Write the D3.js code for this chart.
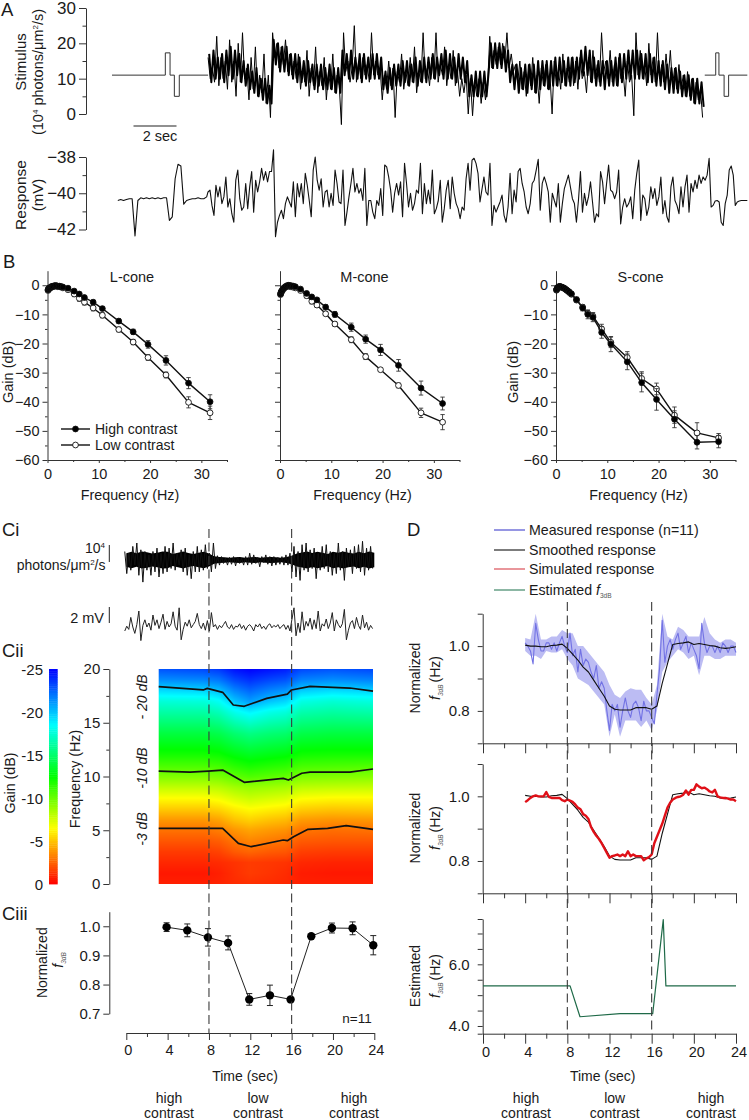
<!DOCTYPE html>
<html><head><meta charset="utf-8">
<style>html,body{margin:0;padding:0;background:#fff}svg{display:block}text{font-family:"Liberation Sans",Arial,sans-serif;fill:#1a1a1a}</style>
<script src="https://cdn.jsdelivr.net/npm/d3@7/dist/d3.min.js"></script>
</head><body>
<svg id="fig" width="749" height="1120" viewBox="0 0 749 1120"></svg>
<script>
// ---------- Panel A data ----------
const stimPre=[[0,11],[2.48,11],[2.48,17.3],[2.7,17.3],[2.7,11],[2.9,11],[2.9,5],[3.13,5],[3.13,11],[4.47,11]];
const stimPost=[[27.57,11],[28.08,11],[28.08,17.3],[28.23,17.3],[28.23,11],[28.47,11],[28.47,5],[28.68,5],[28.68,11],[29.55,11]];
const stimNoise=[16,10,13,9,22,8,16,10,15,7,
21,9,15,5,20,9,23,10,13,4,
16,7,19,5,11,6,17,3,11,-1,
23,16,20,13,19,14,21,12,17,11,
15,10,17,7,13,9,18,5,13,8,
19,6,12,8,16,4,12,7,17,6,
11,8,
-3,23,12,15,9,13,25,9,15,10,
16,11,14,9,23,11,15,11,13,
4,11,7,15,8,13,-1,12,9,17,
7,12,8,16,9,19,6,12,9,23,
10,13,8,16,10,23,9,14,11,19,
8,14,10,18,8,12,5,10,6,11,
0,10,-0.5,9,5,10,3,9,4,8,
22,13,18,14,19,14,20,15,23,13,
17,12,14,9,15,7,12,5,14,8,
16,6,11,3,13,8,14,7,11,0,
15,8,12,7,17,8,13,9,16,8,
15,7,16,10,12,6,16,9,18,10,
14,9,23,12,15,10,18,9,14,8,
16,10,12,5,15,9,11,-0.5,23,11,
18,10,14,8,20,11,16,9,23,10,
14,9,17,10,18,8,13,7,14,7,
11,5,12,5,10,3,9,4,7,-1];
const stimDense=[17,9,18,10,16,10,17,9,18,11,
19,10,18,11,17,9,15,8,14,7,
12,6,13,5,10,4,10,3,8,3,
21,14,20,12,19,12,19,11,17,10,
17,9,16,9,15,8,15,9,14,7,
14,8,14,7,13,7,14,7,13,6,
13,6,
18,11,17,10,18,10,16,10,17,9,
17,10,16,10,17,10,17,10,16,
7,12,6,13,7,14,8,14,8,15,
9,15,8,14,9,16,8,15,9,16,
9,16,10,17,10,16,11,17,10,18,
10,17,10,16,9,17,10,16,9,15,
5,11,5,12,5,12,5,12,5,12,
20,13,20,13,20,13,19,12,18,9,
14,7,14,6,13,7,14,6,14,7,
14,6,15,7,15,8,15,7,15,8,
16,8,16,9,15,8,16,8,16,9,
16,10,18,11,19,11,18,9,16,8,
15,8,15,7,15,8,15,8,16,8,
17,9,17,10,18,10,18,10,18,10,
17,10,17,9,17,9,16,8,15,8,
15,7,14,6,13,6,13,6,12,5,
11,5,11,4,10,3,10,3,9,2];
const respPre=[-40.4,-40.35,-40.4,-40.35,-40.3,-40.3,-42.35,-40.4,-40.25,-40.3,
-40.25,-40.3,-40.25,-40.3,-40.25,-40.3,-40.25,-40.25,-41.5,-41.3,
-39.2,-38.4,-38.5,-40.6,-40.4,-40.35,-40.3,-40.3,-40.25,-40.3,
-40.3,-40.2];
const respMidA=[-39.93,-39.83,-40.67,-41.22,-39.56,-40.2,-39.65,-40.57,-40.2,-39.1,-40.76,-40.3,-41.13,-41.6,-39.28,-38.72,-40.3,-40.94,-40.76,-39.46,-40.85,-39.65,-38.8,-41.04,-39.28,-39.93,-39.37,-38.63,-39.28,-38.8,-39.37,-38.8,-38.8,-37.6,-42.4,-41.6,-41.22,-40.94,-41.4,-40.57,-40.2,-40.48,-40.76,-39.37,-41.3,-39.46,-40.2,-39.46,-40.57,-38.9,-39.56,-40.4,-41.3,-38.72,-38,-39.28,-39.83,-39.2,-40.76,-39.93,-39.83,-40.76,-40,-40.67,-38.72,-39.46,-40.48,-40.57,-38.72,-41.78,-41.04,-40.2,-39.46,-38.63,-39.93,-39.46,-40,-39.74,-40.4,-38.63,-41.78,-40.4,-40.4,-41.04,-41.4,-40.4,-40.67,-39.74,-41.22,-38.44,-38.54,-39.1,-39.83,-41.04,-40,-39.46,-40.1,-39.37,-41.3,-38.35,-39.46,-40.76,-40,-40.94,-40.57,-39.83,-40,-38.35,-41.13,-39.46,-40.57,-39.83,-40.57,-38.72,-41.13,-40.85,-40.4,-39.28,-41.6,-40.85,-39.83,-39.28,-40.85,-39.1,-40,-40.57,-40.85,-41.4,-40.76,-40.94,-39.2,-38.35,-39.83,-38.17,-38.07,-38.35,-38.9,-40.48];
const respMidB=[-39.1,-39.93,-40.1,-38.35,-41.78,-40.67,-41.04,-40.76,-40.48,-40.1,-41.22,-41.6,-40.76,-38.9,-41.13,-39.83,-40.48,-38.8,-38.63,-39.46,-39.93,-40.76,-41.13,-40.57,-39.46,-39.28,-38.72,-38.13,-40.94,-39.46,-39.1,-39.46,-39.93,-41.6,-40,-40.4,-40.76,-39.46,-41.6,-40.57,-39.74,-39.37,-39,-39.65,-40.3,-40.57,-41.6,-40.4,-38.8,-41.04,-40,-40.67,-40.2,-39.37,-40.48,-41.6,-41.13,-41.3,-38.8,-39.37,-40.57,-39.46,-38.44,-39.83,-39.93,-40.3,-39.93,-38.72,-41.69,-40.76,-40.3,-40.76,-40.57,-40.2,-41.4,-39.83,-38.9,-38.17,-41.5,-40.1,-40.3,-41.22,-40.76,-39.65,-40.3,-39.74,-40.67,-40.2,-39.1,-41.13,-40.4,-41.3,-41.6,-39.65,-39.1,-40.4,-40.67,-41.13,-39.65,-40.76,-39.65,-39,-41.04,-39.46,-39.93,-39.28,-39.74,-39,-39.46,-39.1,-39.28,-39,-38.07,-40.76,-40.67,-40.43,-40.4,-40.48,-41.6,-41.78,-40.57,-40.1,-38.72,-38.5,-39,-40.67,-40.48,-40.43,-40.4,-40.4,-40.4,-40.4];

// ---------- Panel B data ----------
const freqs=[0.1,0.2,0.3,0.5,0.7,0.9,1.1,1.4,1.7,2,2.3,2.6,3,4,5.2,6.2,7.2,8.9,10.7,13.9,16.7,19.6,23.1,27.5,31.7];
const lHigh=[-1.5,-1.2,-1,-0.8,-0.5,-0.4,-0.3,-0.1,-0.1,-0.3,-0.3,-0.4,-0.6,-1,-2,-3,-4.2,-5.8,-8,-12.3,-16,-20.3,-25.8,-33.6,-40];
const lLow=[-1.8,-1.5,-1.2,-1,-0.7,-0.6,-0.5,-0.3,-0.3,-0.5,-0.5,-0.6,-0.9,-1.5,-3,-4.5,-5.8,-7.8,-10.3,-15.2,-19.5,-24.8,-30.8,-40.2,-43.8];
const lHighErr=[.4,.4,.4,.4,.4,.4,.3,.3,.3,.3,.3,.4,.4,.6,.7,.6,.6,.7,.7,.8,.9,1.3,1.6,1.9,2.4];
const lLowErr=[.5,.5,.5,.5,.5,.5,.5,.5,.5,.5,.5,.5,.5,.8,.9,1,1,1,.9,.8,.9,1,1,1.9,2.3];
const mHigh=[-3,-2.4,-2,-1.5,-1,-.7,-.4,-.1,0,-.1,-.2,-.3,-.5,-1.3,-2.8,-4,-5,-7.5,-10,-14.4,-18.5,-22.2,-27.5,-35.3,-40.6];
const mLow=[-3.2,-2.7,-2.2,-1.7,-1.2,-.9,-.6,-.3,-.3,-.5,-.5,-.7,-.9,-1.8,-3.6,-5.5,-6.8,-9.8,-13.3,-18.7,-24.5,-29,-34.4,-43.8,-47];
const mHighErr=[.6,.6,.6,.5,.5,.4,.4,.4,.4,.4,.4,.4,.5,.6,.7,.7,.7,.9,1,1.4,1.4,1.9,2,2.4,2.2];
const mLowErr=[.7,.7,.6,.6,.5,.5,.5,.5,.5,.5,.5,.6,.6,.7,.8,.9,.8,.6,.8,1,1,.6,.8,1.6,2.6];
const sHigh=[-1.5,-1.2,-.8,-.5,-.4,-.5,-.6,-.8,-1.1,-1.5,-1.9,-2.3,-2.9,-4.9,-7.8,-10,-11,-16.2,-20.2,-26.3,-33.4,-39.2,-46,-53.9,-53.7];
const sLow=[-1.7,-1.3,-1,-.7,-.5,-.6,-.7,-.9,-1.2,-1.6,-2,-2.5,-3.1,-5.1,-7.5,-9.6,-10.6,-15,-19.6,-24.8,-32,-35.6,-44.6,-50.7,-52.4];
const sHighErr=[.5,.5,.5,.4,.4,.4,.4,.4,.5,.5,.5,.5,.6,.8,1,1.5,1.5,2,2.6,2.7,3.2,3.7,2.9,2.3,2.1];
const sLowErr=[.5,.5,.5,.4,.4,.4,.4,.4,.5,.5,.5,.5,.6,.7,.8,1,1.2,1.6,1.8,2,2.3,2,2.8,3.5,1.5];

// ---------- Panel Ci data ----------
const ciStim=[.5,-.8,.4,-.6,.8,-.3,1.0,-.9,.6,-1.3,.5,-.6,.3,-.9,.5,-.7,.7,-1,.4,-.8,.8,-.7,.7,-.5,1,-.6,.4,-.3,.6,-.7,.7,-.9,.3,-1.1,.5,-.7,.8,-.7,.6,-.6,.9,-.5,.4,-.7,1,-.5,
.25,-.3,.2,-.2,.1,-.3,.15,-.25,.2,-.35,.15,-.2,.1,-.3,.2,-.3,.4,-.25,.3,-.2,.15,-.4,.2,-.15,.3,-.25,.2,-.35,.2,-.3,.15,-.25,.2,-.3,.3,-.3,
.4,-.7,.8,-1,.5,-1.2,.9,-.6,1,-.7,.6,-.5,.7,-1.1,.4,-.6,.8,-.5,.9,-.7,.5,-.9,.4,-.8,1,-.6,.5,-1.2,.7,-.4,.6,-.8,.8,-.5,.9,-.7,1.1,-.9,.7,-.6,.8,-.5];
const ciCoreHalf=[.4,.48,.4,.5,.45,.38,.43,.5,.48,.35,.43,.5,.41,.35,.43,.48,.38,
.22,.18,.16,.13,.16,.18,.13,.16,.18,.13,.16,.18,.16,.13,.18,.25,
.38,.44,.5,.41,.48,.43,.35,.48,.43,.5,.43,.38,.48,.4,.5,.43];
const ciResp=[-.5,.1,-.3,1.2,.0,-.8,.3,2.0,-1.7,.2,.9,.0,.5,-.4,1.5,.2,.9,-.2,.6,1.6,-.3,.7,0,.4,1.9,.1,-.4,2.4,-1.6,-.3,.6,0.1,.9,-.1,.3,.7,1.7,.3,-.2,.5,-.4,.8,-.5,1.8,0,.3,
-.3,.2,-.1,.3,.7,.0,-.2,.3,-.3,.1,0,.4,-.2,.2,-.4,.1,.3,.0,-.5,.3,.0,.4,-.2,.1,-.3,.2,.4,-.1,.2,0,.3,-.2,.1,.3,-.3,.2,
-.5,1.0,2.4,-1.1,.5,-.7,1.9,-.4,.7,.1,1.1,-.3,.9,-.2,2.0,-.5,.4,.1,1.0,-.2,.5,1.8,-.5,.9,.3,-.1,.4,2.2,-1.6,-.4,.5,.8,-.2,1.2,.2,-.3,1.5,-.1,.6,-.4,.2,-.2];

// ---------- Panel Cii data ----------
const hmTimes=[3.13,7.5,9,10.5,12,14,15.5,17,20,24];
const hmFreqs=[0,1,2,3,4,5,6,7,8,9,10,11,12,14,16,17,18,19,20];
const hmGain=[
[-.8,-.8,-.9,-1.1,-1.2,-1.1,-1,-.8,-.8,-.8],
[-.6,-.6,-.8,-1.2,-1.5,-1.3,-1.1,-.7,-.6,-.6],
[-1,-1,-1.1,-1.3,-1.5,-1.4,-1.3,-1,-.9,-.9],
[-1.5,-1.5,-1.7,-2.3,-2.6,-2.3,-2.2,-1.6,-1.5,-1.5],
[-2.2,-2.2,-2.4,-3,-3.4,-3.1,-2.9,-2.3,-2.2,-2.2],
[-2.9,-2.9,-3.2,-3.8,-4.2,-3.9,-3.7,-3,-2.8,-2.9],
[-3.9,-3.9,-4.2,-5,-5.4,-5,-4.8,-4,-3.8,-3.9],
[-5.2,-5.2,-5.5,-6.1,-6.5,-6.2,-6,-5.3,-5.1,-5.2],
[-6.5,-6.5,-6.8,-7.4,-7.8,-7.5,-7.3,-6.6,-6.4,-6.4],
[-8,-8,-8.2,-8.7,-9,-8.8,-8.6,-8.1,-8,-7.9],
[-9.5,-9.5,-9.7,-10.3,-10.7,-10.4,-10.2,-9.6,-9.5,-9.4],
[-10.8,-10.8,-11,-11.6,-12,-11.7,-11.5,-10.9,-10.8,-10.7],
[-12,-12,-12.2,-12.8,-13.2,-12.9,-12.7,-12.1,-12,-12],
[-14,-14,-14.3,-15.1,-15.6,-15.2,-15,-14.2,-14,-14],
[-16.4,-16.4,-16.9,-18.1,-18.8,-18,-17.7,-16.6,-16.3,-16.5],
[-17.6,-17.7,-18.3,-20,-21,-20,-19.5,-17.9,-17.5,-17.8],
[-19.4,-19.6,-20.1,-21.6,-22.4,-21.6,-21.2,-19.8,-19.4,-19.7],
[-21.4,-21.6,-22,-23.2,-23.8,-23.2,-22.9,-21.7,-21.4,-21.7],
[-22.9,-23.2,-23.6,-24.6,-25,-24.6,-24.3,-23.2,-22.9,-23.2]];
const contour20=[[3.13,18.36],[7.45,18.05],[7.84,18.2],[9.33,17.83],[10.36,16.65],[11.42,16.53],[13.6,17.27],[15.6,17.67],[16.0,18.05],[17.8,18.39],[21.66,18.23],[23.9,17.95]];
const contour10=[[3.13,10.5],[6.16,10.4],[7.94,10.5],[9.33,10.6],[11.42,9.46],[15.2,9.83],[15.7,9.67],[17.0,10.3],[17.8,10.4],[21.66,10.4],[23.9,10.7]];
const contour3=[[3.13,5.18],[9.33,5.18],[10.85,3.78],[12.1,3.47],[15.2,4.09],[15.6,4.03],[16.2,4.4],[17.6,5.09],[19.5,5.18],[21.3,5.43],[23.9,5.09]];

// ---------- Panel Ciii data ----------
const ciiiT=[3.9,5.9,7.9,9.85,11.9,13.9,15.9,17.9,19.9,21.9,23.9];
const ciiiV=[.997,.986,.962,.943,.749,.763,.749,.966,.994,.993,.935];
const ciiiE=[.015,.022,.03,.024,.02,.035,.004,.004,.017,.022,.033];

// ---------- Panel D data ----------
const measured=[1.01,1.0,.985,.945,1.07,1.02,.985,.985,1.01,1.01,.99,1.01,.985,1.01,1.03,1.0,
.98,1.04,.97,.99,.92,.99,.94,.96,.95,.92,.90,.94,.87,.89,.87,.80,
.74,.82,.80,.82,.75,.80,.84,.80,.78,.82,.83,.81,.77,.83,.80,.80,
.78,.76,.85,.93,1.08,.95,1.0,1.02,.99,1.02,1.04,.99,1.01,1.03,.98,1.01,
.99,.97,.93,1.07,1.01,.98,1.0,1.0,.98,1.0,.98,1.01,1.0,.98,1.0,1.0,.98];
const bandUpper=[1.025,1.02,1.1,1.02,1.02,1.03,1.03,1.05,1.04,1.04,1.0,1.0,.98,.96,.94,.92,.88,.85,.84,.86,.87,.865,.865,.84,.82,.88,1.1,1.03,1.02,1.06,1.05,1.03,1.03,1.03,1.09,1.04,1.02,1.01,1.02,1.02,1.01];
const bandLower=[.985,.97,.97,.96,.985,.98,.98,.99,.96,.94,.90,.89,.88,.86,.84,.82,.72,.79,.72,.77,.77,.77,.75,.77,.74,.80,.92,.95,.97,.99,.98,.96,.97,.91,.97,.97,.96,.96,.97,.97,.97];
const smoothed=[1.003,1.0,1.0,.998,.998,1.002,1.003,1.006,.993,.975,.957,.935,.92,.895,.87,.845,.815,.805,.803,.803,.803,.81,.81,.81,.805,.815,.885,.945,1.005,1.008,1.01,1.013,1.005,1.008,1.005,1.002,1.0,.995,.993,.995,.998];
const simulated=[.982,.988,.995,1.0,1.003,1.0,1.0,1.0,1.013,.998,.995,.995,.995,.995,.988,.985,
.99,.987,.983,.975,.965,.96,.945,.94,.93,.905,.89,.878,.868,.855,.84,.825,
.81,.815,.817,.82,.815,.82,.815,.83,.815,.82,.815,.815,.815,.802,.808,.812,
.82,.855,.875,.895,.915,.94,.965,.98,.99,.995,.998,1.0,1.005,1.018,1.005,1.02,
1.02,1.037,1.03,1.025,1.027,1.022,1.015,1.012,1.02,1.0,.997,.995,.995,.993,.99,.99,.985];
const estimated=[[0,5.3],[8.26,5.3],[9.2,4.3],[13,4.4],[16.1,4.4],[17.1,7.45],[17.35,5.3],[24,5.3]];
const contrastLabels=["high","low","high"];
const timeTicks=[0,4,8,12,16,20,24];
const legendD=["Measured response (n=11)","Smoothed response","Simulated response","Estimated "];

// ---------- helpers ----------
const svg=d3.select("#fig");
const FS=14;
function txt(x,y,s,o={}){
  const t=svg.append("text").attr("x",x).attr("y",y).attr("font-size",o.fs||FS)
    .attr("text-anchor",o.a||"start").text(s);
  if(o.rot!==undefined) t.attr("transform",`rotate(${o.rot},${x},${y})`);
  if(o.it) t.attr("font-style","italic");
  return t;
}
function rtxt(x,y,s,o={}){return txt(x,y,s,Object.assign({rot:-90,a:"middle"},o));}
function f3db(x,y,extra){
  const t=svg.append("text").attr("transform",`rotate(-90,${x},${y})`).attr("x",x).attr("y",y).attr("text-anchor","middle").attr("font-size",FS);
  t.append("tspan").attr("font-style","italic").text("f");
  t.append("tspan").attr("font-size",6.5).attr("font-style","italic").attr("dy",3).attr("fill","#555").text("3dB");
  if(extra) t.append("tspan").attr("dy",-3).attr("dx",2).text(extra);
  return t;
}
function styleAxis(g,w){g.selectAll("path,line").attr("stroke","#333").attr("stroke-width",w||1);g.selectAll("text").attr("fill","#1a1a1a").attr("font-family",'"Liberation Sans",Arial,sans-serif');return g;}
function yAxis(scale,x,majors,minors,fmt,o={}){
  const ml=o.ml||6,mn=o.mn||3,fs=o.fs||15,pad=o.pad===undefined?4:o.pad;
  const g=svg.append("g").attr("transform",`translate(${x},0)`)
    .call(d3.axisLeft(scale).tickValues(majors).tickSize(ml).tickSizeOuter(0).tickPadding(pad).tickFormat(fmt));
  g.selectAll("text").attr("font-size",fs);
  styleAxis(g);
  if(minors&&minors.length){
    const m=svg.append("g").attr("transform",`translate(${x},0)`)
      .call(d3.axisLeft(scale).tickValues(minors).tickSize(mn).tickSizeOuter(0).tickFormat(""));
    m.select(".domain").remove();styleAxis(m);
  }
  return g;
}
function xAxis(scale,y,majors,minors,fmt,o={}){
  const ml=o.ml||4,mn=o.mn||2,fs=o.fs||15,pad=o.pad===undefined?5:o.pad;
  const g=svg.append("g").attr("transform",`translate(0,${y})`)
    .call(d3.axisBottom(scale).tickValues(majors).tickSize(ml).tickSizeOuter(0).tickPadding(pad).tickFormat(fmt));
  g.selectAll("text").attr("font-size",fs).attr("dx",o.dx||0);
  styleAxis(g);
  if(minors&&minors.length){
    const m=svg.append("g").attr("transform",`translate(0,${y})`)
      .call(d3.axisBottom(scale).tickValues(minors).tickSize(mn).tickSizeOuter(0).tickFormat(""));
    m.select(".domain").remove();styleAxis(m);
  }
  return g;
}
function path(d,stroke,w,extra={}){const p=svg.append("path").attr("d",d).attr("fill","none").attr("stroke",stroke).attr("stroke-width",w).attr("stroke-linejoin","round");for(const k in extra)p.attr(k,extra[k]);return p;}

// ---------- Panel labels ----------
[["A",1,16],["B",3,268],["Ci",2,536],["Cii",2,657],["Ciii",2,920],["D",407,536]].forEach(a=>txt(a[1],a[2],a[0],{fs:18.5}));

// ---------- Panel A ----------
const xA=d3.scaleLinear().domain([0,1]).range([112,133.5]);
const yStim=d3.scaleLinear().domain([0,30]).range([114,8]);
yAxis(yStim,86,[0,10,20,30],[5,15,25],d3.format("d"),{ml:7,mn:3.5,pad:3,fs:17});
const lineA=d3.line().x(d=>xA(d[0])).y(d=>yStim(d[1]));
path(lineA(stimPre),"#333",1);
path(lineA(stimDense.map((v,i)=>[4.52+i*0.1,v])),"#000",2);
path(lineA(stimNoise.map((v,i)=>[4.47+i*0.1,v])),"#000",1);
path(lineA(stimPost),"#333",1);
svg.append("line").attr("x1",xA(1)).attr("x2",xA(3)).attr("y1",126).attr("y2",126).attr("stroke","#222").attr("stroke-width",1.2);
txt(160,141,"2 sec",{a:"middle",fs:14.5});
rtxt(26,62,"Stimulus",{fs:15});
{const t=rtxt(43,72,"(10",{fs:14.5});t.append("tspan").attr("dy",-5).attr("font-size",8).text("4");t.append("tspan").attr("dy",5).text(" photons/\u03bcm");t.append("tspan").attr("dy",-5).attr("font-size",8).text("2");t.append("tspan").attr("dy",5).text("/s)");}
const yResp=d3.scaleLinear().domain([-42,-38]).range([229.5,157]);
yAxis(yResp,86,[-42,-40,-38],[-41,-39],d3.format("d"),{ml:7,mn:3.5,pad:3,fs:17});
const respPts=[
  ...respPre.map((v,i)=>[0.27+i*2/15,v]),
  ...respMidA.map((v,i)=>[4.465+i*(17.116-4.465)/(respMidA.length-1),v]),
  ...respMidB.map((v,i)=>[17.3+i*(29.55-17.3)/(respMidB.length-1),v])];
path(d3.line().x(d=>xA(d[0])).y(d=>yResp(d[1]))(respPts),"#111",1.1);
rtxt(26,195,"Response",{fs:15.5});
rtxt(43,195,"(mV)",{fs:15});

// ---------- Panel B ----------
function bPanel(x0,title,high,low,highE,lowE,withY){
  const x=d3.scaleLinear().domain([0,35]).range([x0,x0+179.5]);
  const y=d3.scaleLinear().domain([-60,5]).range([460,270.7]);
  yAxis(y,x0,[-60,-50,-40,-30,-20,-10,0],[-55,-45,-35,-25,-15,-5],withY?d3.format("d"):"",{ml:5,mn:2.5,pad:3,fs:14.5});
  xAxis(x,460,[0,10,20,30],[5,15,25,35],d3.format("d"),{ml:3,mn:2,pad:6,fs:14.5});
  const line=d3.line().x((d,i)=>x(freqs[i])).y(d=>y(d));
  const drawSeries=(vals,errs,fill)=>{
    path(line(vals),"#111",1.4);
    vals.forEach((v,i)=>{
      const cx=x(freqs[i]),a=y(v+errs[i]),b=y(v-errs[i]);
      path(`M${cx},${a}V${b}M${cx-2.2},${a}h4.4M${cx-2.2},${b}h4.4`,"#333",.9);
    });
    svg.append("g").selectAll("circle").data(vals).join("circle")
      .attr("cx",(d,i)=>x(freqs[i])).attr("cy",d=>y(d)).attr("r",2.9)
      .attr("fill",fill).attr("stroke","#111").attr("stroke-width",.9);
  };
  drawSeries(low,lowE,"#fff");
  drawSeries(high,highE,"#000");
  txt(x0+84.5,282,title,{a:"middle",fs:14.5});
  txt(x0+82.5,500,"Frequency (Hz)",{a:"middle",fs:14.3});
}
bPanel(47.5,"L-cone",lHigh,lLow,lHighErr,lLowErr,true);
bPanel(280,"M-cone",mHigh,mLow,mHighErr,mLowErr,false);
bPanel(556,"S-cone",sHigh,sLow,sHighErr,sLowErr,true);
rtxt(13,372,"Gain (dB)",{fs:14.5});
rtxt(517.5,372,"Gain (dB)",{fs:14.5});
[["High contrast",429,"#000"],["Low contrast",445,"#fff"]].forEach(l=>{
  path(`M61,${l[1]}H90`,"#111",1.4);
  svg.append("circle").attr("cx",75.5).attr("cy",l[1]).attr("r",2.9).attr("fill",l[2]).attr("stroke","#111").attr("stroke-width",.9);
  txt(95,l[1]+5,l[0],{fs:14});
});

// ---------- Panel Ci ----------
const xC=d3.scaleLinear().domain([0,24]).range([126.3,374.3]);
const yCiS=d3.scaleLinear().domain([-1,1]).range([577,543]);
const yCiR=d3.scaleLinear().domain([-1,1]).range([635,619]);
svg.append("path").attr("fill","#000").attr("d",d3.area().x((d,i)=>xC(i*.5)).y0(d=>yCiS(-d)).y1(d=>yCiS(d))(ciCoreHalf));
path(d3.line().x((d,i)=>xC(-0.15+i*0.195)).y(d=>yCiS(d))(ciStim),"#111",1);
path(d3.line().x((d,i)=>xC(-0.15+i*0.195)).y(d=>yCiR(d))(ciResp),"#222",1);
{const t=txt(105,553,"10",{a:"end",fs:14});t.append("tspan").attr("dy",-5).attr("font-size",8).text("4");}
{const t=txt(105.5,570,"photons/\u03bcm",{a:"end",fs:14});t.append("tspan").attr("dy",-5).attr("font-size",8).text("2");t.append("tspan").attr("dy",5).text("/s");}
path("M109.3,545V562","#222",1);
txt(104,623,"2 mV",{a:"end",fs:14.5});
path("M109.3,607V623","#222",1);

// ---------- Panel Cii ----------
const gainColor=d3.scaleLinear().domain([0,-6.5,-12.5,-18.5,-25]).range(["#ff0000","#ffff00","#00ff00","#00ffff","#0000ff"]);
const hx=d3.scaleLinear().domain([3.13,23.9]).range([158.7,373]);
const hy=d3.scaleLinear().domain([0,20]).range([884,669]);
{
  const w=215,h=215,cv=document.createElement("canvas");cv.width=w;cv.height=h;
  const ctx=cv.getContext("2d"),im=ctx.createImageData(w,h);
  const ci=d3.scaleLinear().domain(hmTimes).range(hmTimes.map((_,i)=>i)).clamp(true);
  const ri=d3.scaleLinear().domain(hmFreqs).range(hmFreqs.map((_,i)=>i)).clamp(true);
  for(let py=0;py<h;py++)for(let px=0;px<w;px++){
    const t=hx.invert(158.7+px+.5),f=hy.invert(669+py+.5);
    const c=ci(t),r=ri(f),c0=Math.min(Math.floor(c),hmTimes.length-2),r0=Math.min(Math.floor(r),hmFreqs.length-2);
    const a=c-c0,b=r-r0;
    const g=(1-b)*((1-a)*hmGain[r0][c0]+a*hmGain[r0][c0+1])+b*((1-a)*hmGain[r0+1][c0]+a*hmGain[r0+1][c0+1]);
    const col=d3.rgb(gainColor(g)),k=(py*w+px)*4;
    im.data[k]=col.r;im.data[k+1]=col.g;im.data[k+2]=col.b;im.data[k+3]=255;
  }
  ctx.putImageData(im,0,0);
  svg.append("image").attr("x",158.7).attr("y",669).attr("width",214.3).attr("height",215).attr("preserveAspectRatio","none").attr("href",cv.toDataURL());
}
const lineH=d3.line().x(d=>hx(d[0])).y(d=>hy(d[1]));
[contour20,contour10,contour3].forEach(c=>path(lineH(c),"#111",1.7));
rtxt(147,697,"- 20 dB",{fs:14,it:1});
rtxt(147,768,"-10 dB",{fs:14,it:1});
rtxt(147,829,"-3 dB",{fs:14,it:1});
yAxis(hy,109.3,[0,5,10,15,20],[2.5,7.5,12.5,17.5],d3.format("d"),{ml:6,mn:3,pad:3,fs:15});
rtxt(80,779,"Frequency (Hz)",{fs:14.3});
const barY=d3.scaleLinear().domain([0,-25]).range([884,669]);
const barSteps=d3.range(0,-25,-0.25);
svg.append("g").selectAll("rect").data(barSteps).join("rect")
  .attr("x",49).attr("width",8.7).attr("y",d=>barY(d-0.25)).attr("height",d=>barY(d)-barY(d-0.25)+.4)
  .attr("fill",d=>gainColor(d-0.125));
[0,-5,-10,-15,-20,-25].forEach(v=>txt(43,barY(v)+5.5,String(v),{a:"end",fs:15}));
rtxt(15,783,"Gain (dB)",{fs:14.3});

// ---------- Panel Ciii ----------
const yCiii=d3.scaleLinear().domain([.7,1.05]).range([1013.7,911.7]);
yAxis(yCiii,109.3,[.7,.8,.9,1.0],[],d3.format(".1f"),{ml:6,pad:3,fs:15});
xAxis(xC,1033,timeTicks,[2,6,10,14,18,22],d3.format("d"),{ml:7,mn:4,pad:5,fs:14.5,dx:1.5});
path(d3.line().x((d,i)=>xC(ciiiT[i])).y(d=>yCiii(d))(ciiiV),"#222",1);
ciiiV.forEach((v,i)=>{const cx=xC(ciiiT[i]),a=yCiii(v+ciiiE[i]),b=yCiii(v-ciiiE[i]);path(`M${cx},${a}V${b}M${cx-3},${a}h6M${cx-3},${b}h6`,"#222",1);});
svg.append("g").selectAll("circle").data(ciiiV).join("circle").attr("cx",(d,i)=>xC(ciiiT[i])).attr("cy",d=>yCiii(d)).attr("r",4.2).attr("fill","#000");
txt(357,1023,"n=11",{a:"middle",fs:13.5});
rtxt(47.5,962.7,"Normalized",{fs:14});
f3db(63,960);
txt(245,1081,"Time (sec)",{a:"middle",fs:14});
function contrast(cx,label){txt(cx,1103,label,{a:"middle",fs:14});txt(cx,1118,"contrast",{a:"middle",fs:14});}
[169,258,354].forEach((c,i)=>contrast(c,contrastLabels[i]));

// ---------- Panel D ----------
const xD=d3.scaleLinear().domain([0,24]).range([483,736]);
const tq=i=>4+i*0.25;
const y1=d3.scaleLinear().domain([.7,1.1]).range([743.3,613.7]);
yAxis(y1,482.7,[.8,1.0],[.7,.9,1.1],d3.format(".1f"),{ml:5,mn:5,pad:8,fs:15});
xAxis(xD,743.3,timeTicks,[2,6,10,14,18,22],"",{ml:10,mn:5});
svg.append("path").attr("fill","#bcbcf3").attr("stroke","none")
 .attr("d",d3.area().x((d,i)=>xD(4+i*.5)).y0((d,i)=>y1(bandLower[i])).y1(d=>y1(d))(bandUpper));
path(d3.line().x((d,i)=>xD(tq(i))).y(d=>y1(d))(measured),"#7272e4",1.1);
path(d3.line().x((d,i)=>xD(4+i*.5)).y(d=>y1(d))(smoothed),"#111",1.1);
rtxt(420,678,"Normalized",{fs:14});
f3db(440,678,"(Hz)");

const y2=d3.scaleLinear().domain([.7,1.1]).range([893.3,764]);
yAxis(y2,482.7,[.8,1.0],[.7,.9,1.1],d3.format(".1f"),{ml:5,mn:5,pad:8,fs:15});
xAxis(xD,893.3,timeTicks,[2,6,10,14,18,22],"",{ml:10,mn:5});
path(d3.line().x((d,i)=>xD(4+i*.5)).y(d=>y2(d))(smoothed),"#111",1.1);
path(d3.line().x((d,i)=>xD(tq(i))).y(d=>y2(d))(simulated),"#e01018",2.4);
rtxt(420,828,"Normalized",{fs:14});
f3db(440,828,"(Hz)");

const y3=d3.scaleLinear().domain([3.75,7.47]).range([1033.7,919]);
yAxis(y3,482.7,[4,6],[3.75,4.5,5,5.5,6.5,7,7.47],d3.format(".1f"),{ml:5,mn:5,pad:8,fs:15});
xAxis(xD,1033.7,timeTicks,[2,6,10,14,18,22],d3.format("d"),{ml:10,mn:5,pad:3,fs:14.5,dx:2.5});
path(d3.line().x(d=>xD(d[0])).y(d=>y3(d[1]))(estimated),"#1f6a48",1.2);
rtxt(420,976,"Estimated",{fs:14});
f3db(440,976,"(Hz)");
txt(602.7,1081,"Time (sec)",{a:"middle",fs:14});
[526,614.7,711].forEach((c,i)=>contrast(c,contrastLabels[i]));

[["#4040cc",530],["#111",550],["#d8404a",569],["#2f7d5a",590]].forEach((l,i)=>{
  path(`M494,${l[1]}H525`,l[0],1.1);
  const t=txt(529,l[1]+5,legendD[i],{fs:14.2});
  if(i===3){t.append("tspan").attr("font-style","italic").text("f");t.append("tspan").attr("font-size",6.5).attr("fill","#555").attr("dy",3).text("3dB");}
});

// ---------- dashed guide lines ----------
[8,16].forEach(v=>{
  path(`M${xC(v)},529V1033`,"#3a3a3a",1.1,{"stroke-dasharray":"9,4.5"});
  path(`M${xD(v)},602V1033.7`,"#3a3a3a",1.1,{"stroke-dasharray":"9,4.5"});
});
</script>
</body></html>
